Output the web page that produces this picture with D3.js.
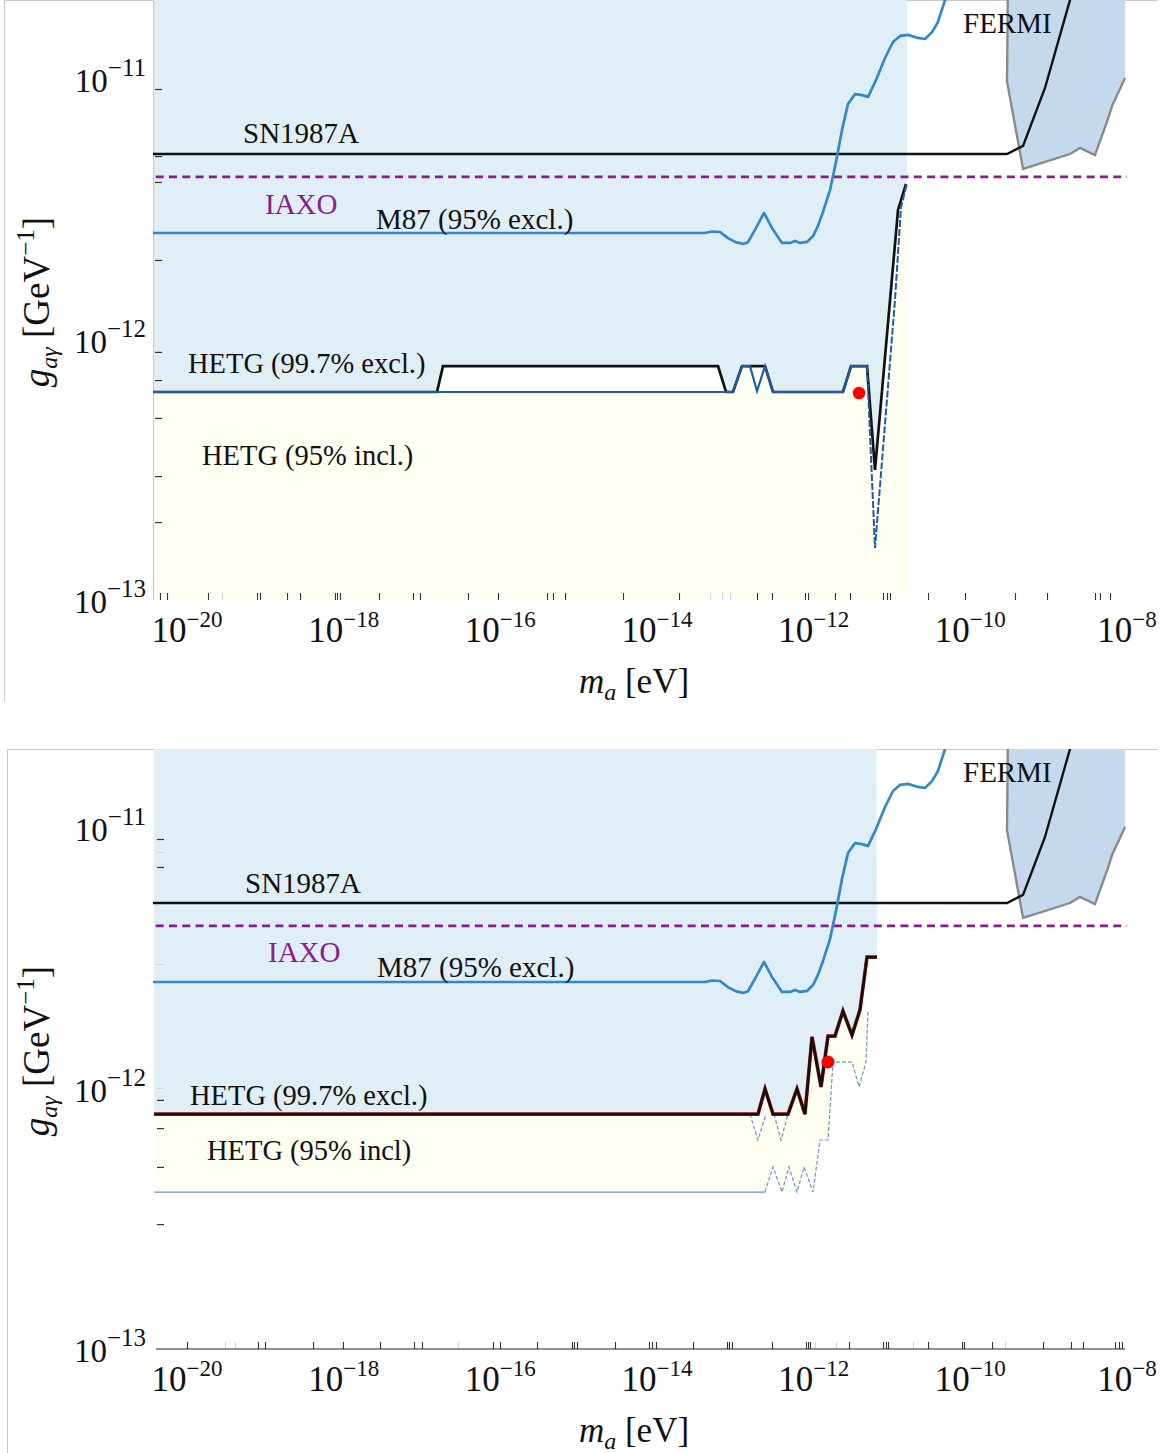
<!DOCTYPE html>
<html>
<head>
<meta charset="utf-8">
<script src="https://cdn.jsdelivr.net/npm/d3@7"></script>
<style>
  body { margin: 0; background: #fff; }
  svg text { font-family: "Liberation Serif", "Times New Roman", serif; fill: #111; }
</style>
</head>
<body>
<svg id="chart" width="1169" height="1453"></svg>
<script>
// All values are log10: [log10(m_a / eV), log10(g_agamma / GeV^-1)]

const xDecadeLabels = [-20, -18, -16, -14, -12, -10, -8];
const yDecadeLabels = [-13, -12, -11];

// minor tick marks (log10 positions)
const xTicksTop = [-20.345, -20.255, -19.732, -19.106, -19.068, -18.723, -18.557, -18.111, -18.085, -18.047,
  -17.549, -17.115, -17.026, -16.413, -16.030, -15.404, -15.328, -15.174, -14.434, -13.719, -12.723, -12.532,
  -12.111, -12.072, -11.728, -11.536, -11.115, -11.064, -11.026, -10.540, -10.068, -9.430, -9.021, -8.409,
  -8.345, -8.217];
const xTicksTopLight = [-19.553, -13.323, -13.170, -13.068];
const xTicksBottom = [-20.0, -19.094, -19.004, -18.391, -18.009, -17.536, -17.102, -17.0, -16.094, -16.004,
  -15.532, -15.085, -15.060, -15.021, -14.536, -14.102, -14.064, -14.013, -13.540, -13.106, -13.081, -13.043,
  -12.532, -12.098, -12.072, -12.047, -11.549, -11.115, -11.077, -11.051, -10.540, -10.106, -10.081, -9.723,
  -9.072, -8.715, -8.562, -8.153, -8.102, -8.064];
const xTicksBottomLight = [-19.515, -19.387, -16.540, -11.983, -11.715, -10.732, -9.557];
const yTicksTop = [-11.0, -11.264, -11.366, -11.673, -12.035, -12.146, -12.295, -12.524, -12.705];
const yTicksBottom = [-11.004, -11.114, -12.031, -12.142, -12.295, -12.520];
const yTicksBottomLight = [-11.055, -11.496, -11.984];

// SN1987A bound
const sn1987a = [[-20.434, -11.256], [-9.532, -11.256], [-9.327, -11.224], [-9.047, -10.996], [-8.728, -10.650], [-8.65, -10.57]];
// IAXO projected sensitivity
const iaxo = [[-20.40, -11.346], [-8.0, -11.346]];
// M87 (95% excl.)
const m87 = [[-20.434, -11.567], [-13.387, -11.567], [-13.298, -11.561], [-13.196, -11.563], [-13.094, -11.587],
  [-12.990, -11.604], [-12.900, -11.610], [-12.838, -11.603], [-12.736, -11.547], [-12.634, -11.488], [-12.532, -11.547],
  [-12.404, -11.606], [-12.302, -11.606], [-12.238, -11.598], [-12.174, -11.606], [-12.085, -11.602],
  [-12.008, -11.579], [-11.945, -11.539], [-11.881, -11.484], [-11.791, -11.398], [-11.715, -11.287],
  [-11.638, -11.161], [-11.562, -11.059], [-11.472, -11.020], [-11.383, -11.024], [-11.306, -11.031],
  [-11.204, -10.965], [-11.089, -10.878], [-10.987, -10.815], [-10.898, -10.791], [-10.796, -10.787],
  [-10.668, -10.799], [-10.579, -10.803], [-10.489, -10.776], [-10.413, -10.736], [-10.323, -10.650],
  [-10.285, -10.610]];
// FERMI exclusion
const fermi = [[-9.519, -10.55], [-9.532, -10.969], [-9.327, -11.315], [-8.728, -11.256], [-8.600, -11.232],
  [-8.409, -11.260], [-8.243, -11.118], [-8.191, -11.067], [-8.025, -10.957], [-8.025, -10.55]];

// upper panel: HETG
const hetgExclTop = [[-20.434, -12.193], [-16.809, -12.193], [-16.732, -12.091], [-13.221, -12.091],
  [-13.119, -12.193], [-13.030, -12.193], [-12.915, -12.091], [-12.621, -12.091], [-12.519, -12.193],
  [-11.626, -12.193], [-11.523, -12.091], [-11.319, -12.091], [-11.217, -12.500], [-11.025, -11.831],
  [-10.923, -11.476], [-10.834, -11.386], [-10.821, -11.374]];
const hetgInclTop = [[-20.434, -12.193], [-13.030, -12.193], [-12.915, -12.091], [-12.813, -12.091],
  [-12.723, -12.189], [-12.621, -12.091], [-12.519, -12.193], [-11.626, -12.193], [-11.523, -12.091],
  [-11.319, -12.091], [-11.217, -12.807], [-10.962, -11.831], [-10.885, -11.465], [-10.808, -11.370]];
const bestFitTop = [-11.421, -12.197];

// lower panel: HETG
const hetgExclBottom = [[-20.42, -12.087], [-12.711, -12.087], [-12.621, -11.988], [-12.519, -12.087],
  [-12.328, -12.087], [-12.213, -11.988], [-12.111, -12.087], [-12.021, -11.783], [-11.906, -11.980],
  [-11.817, -11.780], [-11.728, -11.780], [-11.626, -11.681], [-11.511, -11.776], [-11.409, -11.677],
  [-11.319, -11.469], [-11.192, -11.469]];
const hetgLowerSolid = [[-20.42, -12.394], [-12.621, -12.394]];
const hetgLowerDashed = [[-12.621, -12.394], [-12.519, -12.295], [-12.404, -12.394], [-12.315, -12.295],
  [-12.213, -12.394], [-12.123, -12.295], [-12.008, -12.394], [-11.919, -12.189], [-11.817, -12.189],
  [-11.753, -11.882], [-11.511, -11.882], [-11.421, -11.980], [-11.332, -11.882], [-11.306, -11.677]];
const hetgUpperDashedA = [[-12.813, -12.087], [-12.711, -12.189], [-12.609, -12.087]];
const hetgUpperDashedB = [[-12.506, -12.087], [-12.417, -12.189], [-12.328, -12.087]];
const bestFitBottom = [-11.817, -11.882];

// ---------------------------------------------------------------
const svg = d3.select('#chart');
const x = d3.scaleLog().domain([1e-20, 1e-8]).range([187, 1127]);
const y = d3.scaleLog().domain([1e-13, 1e-11]).range([597, 89]);
const px = v => x(Math.pow(10, v));
const py = v => y(Math.pow(10, v));
const line = d3.line().x(d => px(d[0])).y(d => py(d[1]));
const yTop = Math.log10(y.invert(-2));
const yBot = Math.log10(y.invert(600));

const C = {
  blueFill: '#e0eef6', cream: '#fefef1', fermiFill: '#c5d9ee', fermiEdge: '#8a8a8a',
  m87: '#3189c6', hetgBlue: '#1f5da3', thinBlue: '#6f95c8', iaxo: '#8b1c8b', frame: '#c8c8c8'
};

svg.append('defs').append('clipPath').attr('id', 'plotClip')
  .append('rect').attr('x', 153).attr('y', 0).attr('width', 975).attr('height', 600);

function tickLabel(g, txt, exp, xx, yy, size, supSize, rise, anchor) {
  const t = g.append('text').attr('x', xx).attr('y', yy).attr('text-anchor', anchor)
    .style('font-size', size + 'px');
  t.append('tspan').text(txt);
  t.append('tspan').attr('dy', -rise).style('font-size', supSize + 'px').text('\u2212' + Math.abs(exp));
}

function drawCommon(g, plot, opt) {
  // FERMI
  plot.append('path').attr('d', line(fermi) + 'Z').attr('fill', C.fermiFill);
  plot.append('path').attr('d', line(fermi.slice(0, 9))).attr('fill', 'none')
    .attr('stroke', C.fermiEdge).attr('stroke-width', 2.4);
  // SN1987A
  plot.append('path').attr('d', line(sn1987a)).attr('fill', 'none').attr('stroke', '#111').attr('stroke-width', 2.4);
  // IAXO
  plot.append('path').attr('d', line(iaxo)).attr('fill', 'none').attr('stroke', C.iaxo)
    .attr('stroke-width', 2.6).attr('stroke-dasharray', '8,5.3');
  // M87
  plot.append('path').attr('d', line(m87.map(d => d))).attr('fill', 'none').attr('stroke', C.m87)
    .attr('stroke-width', 2.7).attr('stroke-linejoin', 'round');

  // y ticks
  const yAxis = d3.axisRight(y).tickValues(opt.yTicks.map(v => Math.pow(10, v))).tickSize(7).tickFormat('');
  const ya = g.append('g').attr('transform', `translate(${opt.yTickX},0)`).call(yAxis);
  ya.select('.domain').remove();
  ya.selectAll('line').attr('stroke', '#333').attr('stroke-width', 1.2);
  if (opt.yTicksLight) {
    const yl = g.append('g').attr('transform', `translate(${opt.yTickX},0)`)
      .call(d3.axisRight(y).tickValues(opt.yTicksLight.map(v => Math.pow(10, v))).tickSize(7).tickFormat(''));
    yl.select('.domain').remove();
    yl.selectAll('line').attr('stroke', '#d0d0d0').attr('stroke-width', 1.2);
  }
  // x ticks
  const xa = g.append('g').attr('transform', 'translate(0,600)')
    .call(d3.axisTop(x).tickValues(opt.xTicks.map(v => Math.pow(10, v))).tickSize(7).tickFormat(''));
  xa.select('.domain').remove();
  xa.selectAll('line').attr('stroke', '#333').attr('stroke-width', 1.1);
  const xl = g.append('g').attr('transform', 'translate(0,600)')
    .call(d3.axisTop(x).tickValues(opt.xTicksLight.map(v => Math.pow(10, v))).tickSize(7).tickFormat(''));
  xl.select('.domain').remove();
  xl.selectAll('line').attr('stroke', '#d4d4d4').attr('stroke-width', 1.1);

  // tick labels
  xDecadeLabels.forEach(e => tickLabel(g, '10', e, px(e), 642, 35, 23, 15, 'middle'));
  // the y labels sit slightly lower than their tick, more so towards the bottom
  yDecadeLabels.forEach(e => tickLabel(g, '10', e, 146, py(e) + 3 + 6.5 * (-11 - e), 33, 25, 16, 'end'));

  // axis titles
  const xt = g.append('text').attr('x', 634).attr('y', 693).attr('text-anchor', 'middle').style('font-size', '35px');
  xt.append('tspan').style('font-style', 'italic').text('m');
  xt.append('tspan').attr('dy', 7).style('font-style', 'italic').style('font-size', '24px').text('a');
  xt.append('tspan').attr('dy', -7).text(' [eV]');

  const yt = g.append('text').attr('transform', 'translate(49,302) rotate(-90)')
    .attr('text-anchor', 'middle').style('font-size', '37px');
  yt.append('tspan').style('font-style', 'italic').text('g');
  yt.append('tspan').attr('dy', 8).style('font-style', 'italic').style('font-size', '24px').text('a\u03b3');
  yt.append('tspan').attr('dy', -8).text(' [GeV');
  yt.append('tspan').attr('dy', -15).style('font-size', '25px').text('\u22121');
  yt.append('tspan').attr('dy', 15).text(']');

  // annotations
  const ann = (txt, xx, yy, color) => g.append('text').attr('x', xx).attr('y', yy)
    .style('font-size', '29px').style('fill', color || '#111').text(txt);
  ann('SN1987A', opt.sn[0], opt.sn[1]);
  ann('IAXO', opt.iaxo[0], opt.iaxo[1], C.iaxo);
  ann('M87 (95% excl.)', opt.m87[0], opt.m87[1]);
  ann(opt.exclText, opt.excl[0], opt.excl[1]).style('font-size', '28.5px');
  ann(opt.inclText, opt.incl[0], opt.incl[1]).style('font-size', '28.5px');
  ann('FERMI', 963, 33);
}

// ---------------- upper panel ----------------
(function () {
  const g = svg.append('g').attr('transform', 'translate(0,0)');
  g.append('line').attr('x1', 4).attr('x2', 1157).attr('y1', 0.5).attr('y2', 0.5).attr('stroke', C.frame);
  g.append('line').attr('x1', 4.5).attr('x2', 4.5).attr('y1', 0).attr('y2', 702).attr('stroke', C.frame);
  const plot = g.append('g').attr('clip-path', 'url(#plotClip)');

  const region = [[-20.434, yTop], [-10.808, yTop], [-10.808, yBot], [-20.434, yBot]];
  plot.append('path').attr('d', line(region) + 'Z').attr('fill', C.cream);
  const excluded = [[-20.434, yTop], [-10.808, yTop], [-10.808, -11.370]].concat(hetgExclTop.slice().reverse());
  plot.append('path').attr('d', line(excluded) + 'Z').attr('fill', C.blueFill);
  const between = hetgExclTop.concat(hetgInclTop.slice().reverse());
  plot.append('path').attr('d', line(between) + 'Z').attr('fill', '#fff');
  plot.append('line').attr('x1', 153.5).attr('x2', 153.5).attr('y1', 0).attr('y2', 600)
    .attr('stroke', '#c4cdd2').attr('stroke-width', 1.2);

  drawCommon(g, plot, {
    yTicks: yTicksTop, yTickX: 155, xTicks: xTicksTop, xTicksLight: xTicksTopLight,
    sn: [243, 143], iaxo: [265, 214], m87: [376, 229], excl: [188, 373], incl: [202, 465],
    exclText: 'HETG (99.7% excl.)', inclText: 'HETG (95% incl.)'
  });

  plot.append('path').attr('d', line(hetgExclTop)).attr('fill', 'none')
    .attr('stroke', '#111').attr('stroke-width', 2.7).attr('stroke-linejoin', 'miter');
  plot.append('path').attr('d', line(hetgInclTop.slice(0, 10))).attr('fill', 'none')
    .attr('stroke', C.hetgBlue).attr('stroke-width', 2.2);
  plot.append('path').attr('d', line(hetgInclTop.slice(9))).attr('fill', 'none')
    .attr('stroke', C.hetgBlue).attr('stroke-width', 2).attr('stroke-dasharray', '7,2');
  plot.append('circle').attr('cx', px(bestFitTop[0])).attr('cy', py(bestFitTop[1])).attr('r', 6.3).attr('fill', '#f00');
})();

// ---------------- lower panel ----------------
(function () {
  const g = svg.append('g').attr('transform', 'translate(0,749)');
  g.append('line').attr('x1', 7).attr('x2', 1157).attr('y1', 0.5).attr('y2', 0.5).attr('stroke', C.frame);
  g.append('line').attr('x1', 7.5).attr('x2', 7.5).attr('y1', 0).attr('y2', 704).attr('stroke', C.frame);
  const plot = g.append('g').attr('clip-path', 'url(#plotClip)');

  const excluded = [[-20.42, yTop], [-11.20, yTop]].concat(hetgExclBottom.slice().reverse());
  plot.append('path').attr('d', line(excluded) + 'Z').attr('fill', C.blueFill);
  const band = hetgExclBottom.slice(0, 14).concat(hetgLowerDashed.slice().reverse(), hetgLowerSolid.slice().reverse());
  plot.append('path').attr('d', line(band) + 'Z').attr('fill', C.cream);

  drawCommon(g, plot, {
    yTicks: yTicksBottom, yTicksLight: yTicksBottomLight, yTickX: 157,
    xTicks: xTicksBottom, xTicksLight: xTicksBottomLight,
    sn: [245, 144], iaxo: [268, 213], m87: [377, 228], excl: [190, 356], incl: [207, 411],
    exclText: 'HETG (99.7% excl.)', inclText: 'HETG (95% incl)'
  });

  // x axis line
  g.append('line').attr('x1', px(-20.396)).attr('x2', px(-8.026)).attr('y1', 600).attr('y2', 600)
    .attr('stroke', '#222').attr('stroke-width', 1.2);

  plot.append('path').attr('d', line(hetgLowerSolid)).attr('fill', 'none')
    .attr('stroke', C.thinBlue).attr('stroke-width', 1.3);
  [hetgLowerDashed, hetgUpperDashedA, hetgUpperDashedB].forEach(d =>
    plot.append('path').attr('d', line(d)).attr('fill', 'none')
      .attr('stroke', C.thinBlue).attr('stroke-width', 1.2).attr('stroke-dasharray', '4,2'));
  plot.append('path').attr('d', line(hetgExclBottom)).attr('fill', 'none')
    .attr('stroke', '#e01010').attr('stroke-width', 3.6);
  plot.append('path').attr('d', line(hetgExclBottom)).attr('fill', 'none')
    .attr('stroke', '#111').attr('stroke-width', 2.8);
  plot.append('circle').attr('cx', px(bestFitBottom[0])).attr('cy', py(bestFitBottom[1])).attr('r', 6.5).attr('fill', '#f00');
})();
</script>
</body>
</html>
